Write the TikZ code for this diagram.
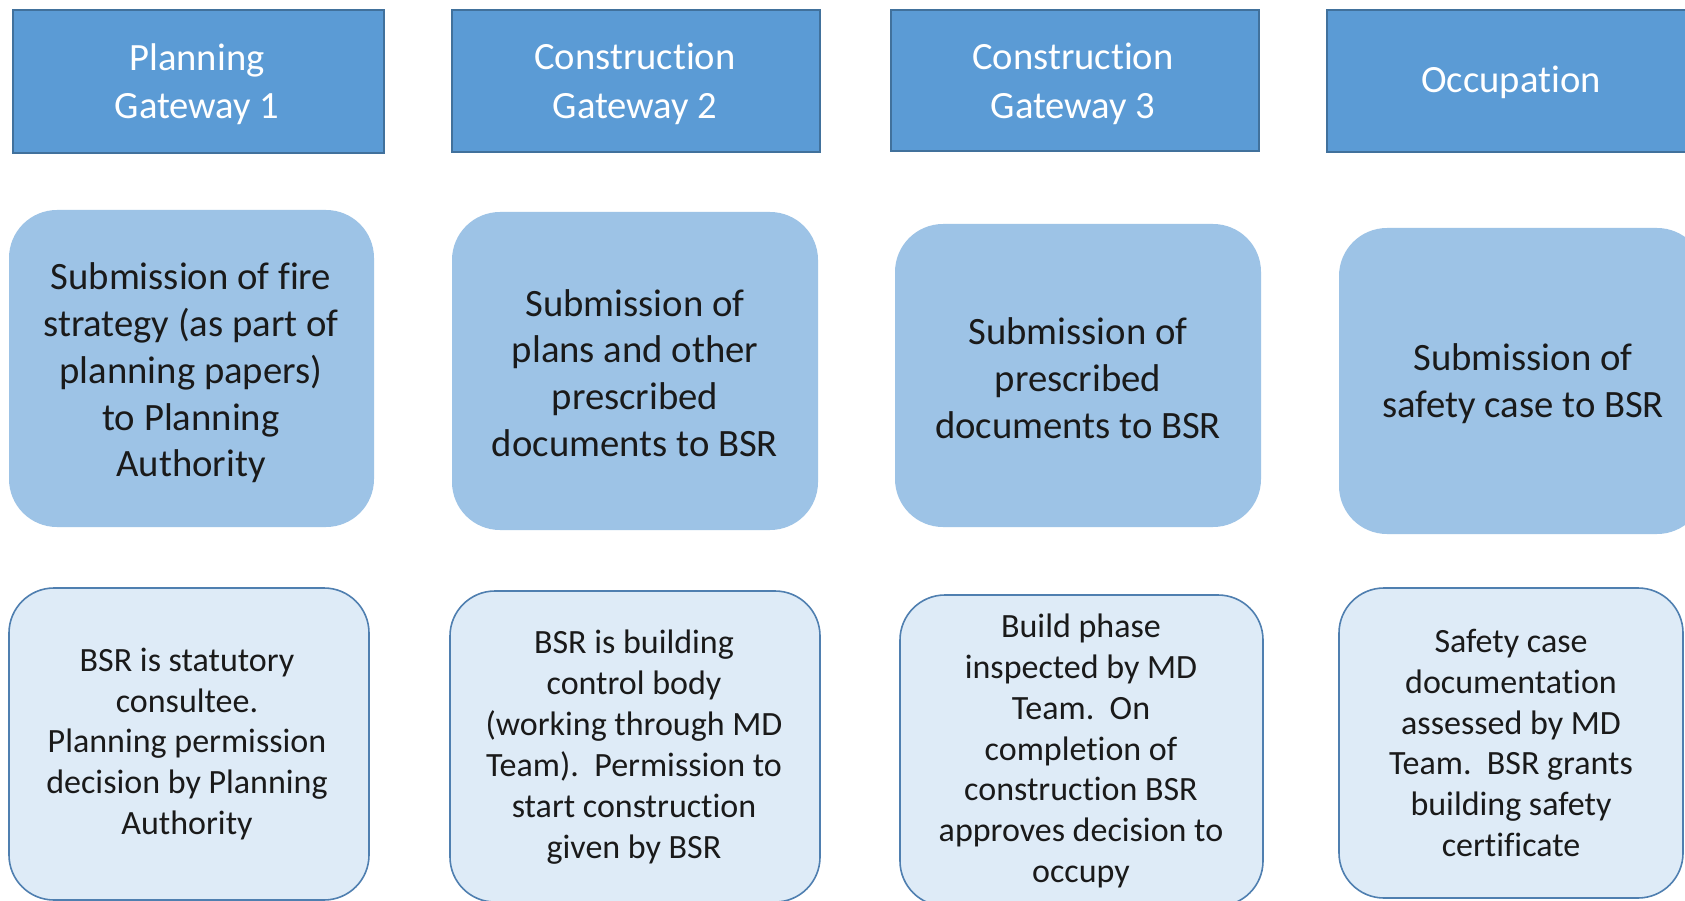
\documentclass[tikz,border=0pt]{standalone}
\usepackage{fontspec}
\setmainfont{Carlito}[Ligatures={NoCommon,NoRare,NoContextual},RawFeature={-liga;-clig;-dlig}]
\definecolor{topfill}{HTML}{5B9BD5}
\definecolor{topline}{HTML}{41719C}
\definecolor{midfill}{HTML}{9DC3E6}
\definecolor{botfill}{HTML}{DEEBF7}
\definecolor{botline}{HTML}{4F7FB0}
\definecolor{txt}{HTML}{1A1A1A}
\tikzset{
  gate/.style={draw=topline, line width=1.5pt, fill=topfill, inner sep=0pt},
  gatetext/.style={text=white, align=center, font=\fontsize{38.6}{48.4}\selectfont},
  sub/.style={fill=midfill, rounded corners=48pt, inner sep=0pt},
  subtext/.style={text=txt, align=center, font=\fontsize{38.7}{46.8}\selectfont},
  role/.style={draw=botline, line width=1.6pt, fill=botfill, rounded corners=45pt, inner sep=0pt},
  roletext/.style={text=txt, align=center, font=\fontsize{34}{40.9}\selectfont},
}
\begin{document}
\begin{tikzpicture}[x=1pt,y=-1pt]
\useasboundingbox (0,0) rectangle (1685,901);
\clip (0,0) rectangle (1685,901);
\fill[white] (0,0) rectangle (1685,901);
% top row
\node[gate, minimum width=371pt, minimum height=143pt] (t1) at (198.5,81.5) {};
\node[gatetext] (t1x) at (197,84) {Planning\\Gateway 1};
\node[gate, minimum width=368pt, minimum height=142pt] (t2) at (636,81) {};
\node[gatetext] (t2x) at (635,84) {Construction\\Gateway 2};
\node[gate, minimum width=368pt, minimum height=141pt] (t3) at (1075,80.5) {};
\node[gatetext] (t3x) at (1073,84) {Construction\\Gateway 3};
\node[gate, minimum width=368pt, minimum height=142pt] (t4) at (1511,81) {};
\node[gatetext] (t4x) at (1511,82) {Occupation};
% middle row
\node[sub, minimum width=365pt, minimum height=317pt] (m1) at (191.5,368.5) {};
\node[subtext] (m1x) at (191,373) {Submission of fire\\strategy (as part of\\planning papers)\\to Planning\\Authority};
\node[sub, minimum width=366pt, minimum height=318pt] (m2) at (635,371) {};
\node[subtext] (m2x) at (635,373) {Submission of\\plans and other\\prescribed\\documents to BSR};
\node[sub, minimum width=366pt, minimum height=303pt] (m3) at (1078,375.5) {};
\node[subtext] (m3x) at (1078,378) {Submission of\\prescribed\\documents to BSR};
\node[sub, minimum width=366pt, minimum height=306pt] (m4) at (1522,381) {};
\node[subtext] (m4x) at (1523,384) {Submission of\\safety case to BSR};
% bottom row
\node[role, minimum width=360pt, minimum height=312pt] (b1) at (189,744) {};
\node[roletext] (b1x) at (187,744) {BSR is statutory\\consultee.\\Planning permission\\decision by Planning\\Authority};
\node[role, minimum width=370pt, minimum height=311pt] (b2) at (635,746.5) {};
\node[roletext] (b2x) at (634,747) {BSR is building\\control body\\(working through MD\\Team).\ \ Permission to\\start construction\\given by BSR};
\node[role, minimum width=363pt, minimum height=311pt] (b3) at (1081.5,750.5) {};
\node[roletext] (b3x) at (1081,751) {Build phase\\inspected by MD\\Team.\ \ On\\completion of\\construction BSR\\approves decision to\\occupy};
\node[role, minimum width=344pt, minimum height=310pt] (b4) at (1511,743) {};
\node[roletext] (b4x) at (1511,743) {Safety case\\documentation\\assessed by MD\\Team.\ \ BSR grants\\building safety\\certificate};
\end{tikzpicture}
\end{document}
